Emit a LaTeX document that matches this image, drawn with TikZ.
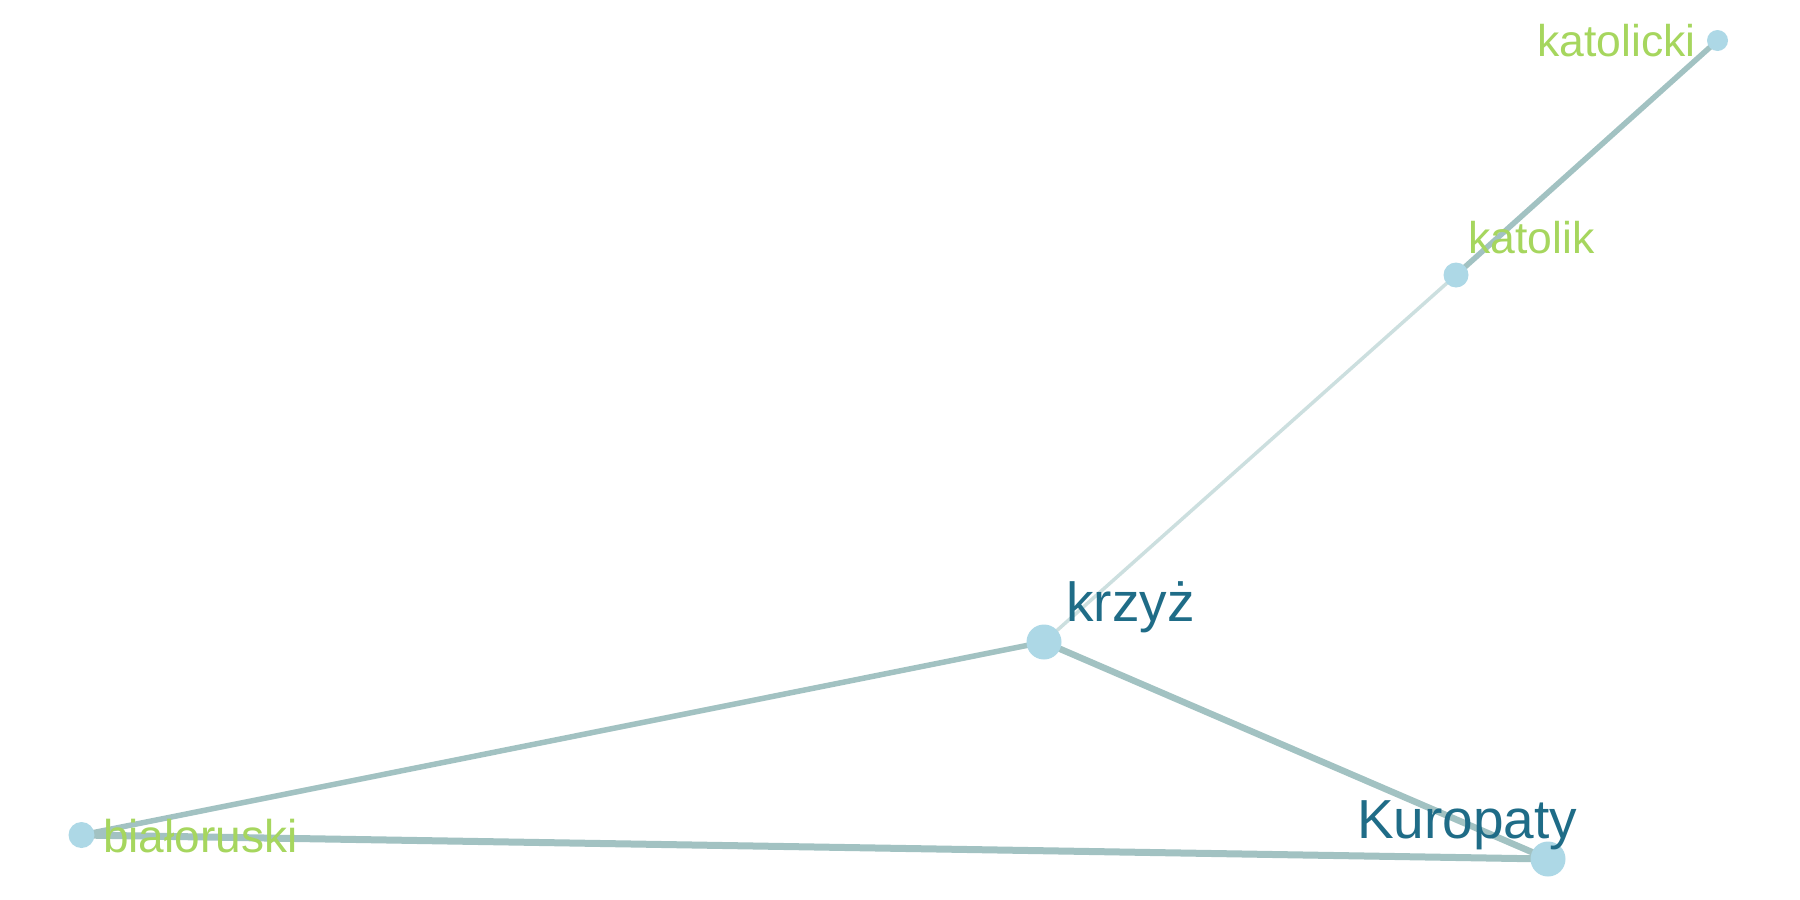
\documentclass[tikz,border=0pt]{standalone}
\usepackage{fontspec}
\setmainfont{Liberation Sans}
\definecolor{nodefill}{HTML}{ADD8E6}
\definecolor{edgecol}{HTML}{A2C2C2}
\definecolor{edgelight}{HTML}{CCDFDF}
\definecolor{lblgreen}{HTML}{A6D65E}
\definecolor{lblteal}{HTML}{1F6C87}
\begin{document}
\begin{tikzpicture}[x=1pt,y=-1pt,
  vert/.style={circle,fill=nodefill,inner sep=0pt,minimum size=#1},
  link/.style={draw=edgecol,line width=#1},
  greenlbl/.style={text=lblgreen,font=\fontsize{44.5}{44.5}\selectfont,inner sep=0pt},
  teallbl/.style={text=lblteal,font=\fontsize{55}{55}\selectfont,inner sep=0pt}]
\useasboundingbox (0,0) rectangle (1800,900);
\coordinate (cK1) at (1717.5,40.5);
\coordinate (cK2) at (1456,275);
\coordinate (cKr) at (1044,642);
\coordinate (cKu) at (1548,859);
\coordinate (cB) at (81.5,835);
% edges
\draw[link=5.5pt] (cK1) -- (cK2);
\draw[draw=edgelight,line width=3.5pt] (cK2) -- (cKr);
\draw[link=5.5pt] (cKr) -- (cB);
\draw[link=6.5pt] (cKr) -- (cKu);
\draw[link=7pt] (cB) -- (cKu);
% nodes
\node[vert=21pt] (katolicki) at (cK1) {};
\node[vert=25pt] (katolik) at (cK2) {};
\node[vert=35pt] (krzyz) at (cKr) {};
\node[vert=35pt] (kuropaty) at (cKu) {};
\node[vert=26pt] (bialoruski) at (cB) {};
% labels
\node[greenlbl,anchor=base east] (lkatolicki) at (1696,56) {katolicki};
\node[greenlbl,anchor=base west] (lkatolik) at (1468,253) {katolik};
\node[teallbl,anchor=base west] (lkrzyz) at (1066,621) {krzyż};
\node[teallbl,anchor=base west] (lkuropaty) at (1357,838) {Kuropaty};
\node[greenlbl,anchor=base west,font=\fontsize{46}{46}\selectfont] (lbialoruski) at (103,852) {białoruski};
\end{tikzpicture}
\end{document}
